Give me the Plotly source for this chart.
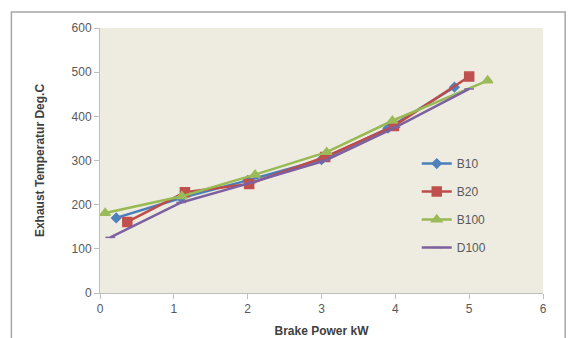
import plotly.graph_objects as go

# Brake power (kW) and exhaust gas temperature (deg C) per fuel blend
b10_power = [0.22, 1.10, 2.00, 3.00, 3.90, 4.80]
b10_temp = [170, 215, 255, 302, 373, 466]

b20_power = [0.37, 1.15, 2.02, 3.05, 3.98, 5.00]
b20_temp = [161, 228, 247, 308, 378, 490]

b100_power = [0.07, 1.11, 2.10, 3.07, 3.96, 5.25]
b100_temp = [181, 219, 268, 319, 390, 481]

d100_power = [0.14, 1.10, 2.05, 3.05, 4.00, 5.00]
d100_temp = [126, 205, 250, 300, 375, 462]

x_ticks = [0, 1, 2, 3, 4, 5, 6]
y_ticks = [0, 100, 200, 300, 400, 500, 600]

series = [
    ("B10", b10_power, b10_temp, "#4A7EBB", "#4F81BD", "diamond", 7),
    ("B20", b20_power, b20_temp, "#BE4B48", "#C0504D", "square", 9),
    ("B100", b100_power, b100_temp, "#98B954", "#9BBB59", "triangle-up", 9),
    ("D100", d100_power, d100_temp, "#7D60A0", "#8064A2", "line-ew", 7),
]

fig = go.Figure()
for name, xs, ys, lc, mc, sym, sz in series:
    fig.add_trace(go.Scatter(
        x=xs, y=ys, name=name, mode="lines+markers", legendgroup=name,
        line=dict(color=lc, width=2.5),
        marker=dict(symbol=sym, size=sz, color=mc,
                    line=dict(color=mc, width=1.5)),
    ))

base_font = "Liberation Sans, Arial, sans-serif"
axis_font = dict(family=base_font, size=12, color="#595959")
title_font = dict(family=base_font, size=12, color="#404040")

fig.update_layout(
    width=574, height=338,
    margin=dict(l=100, r=31, t=28, b=45),
    paper_bgcolor="white",
    plot_bgcolor="#EEECE1",
    font=axis_font,
    showlegend=True,
    legend=dict(x=0.715, y=0.33, xanchor="left", yanchor="middle",
                bgcolor="rgba(0,0,0,0)", font=dict(size=12, color="#595959"),
                itemwidth=30, tracegroupgap=9),
    xaxis=dict(range=[0, 6], tickvals=x_ticks, showgrid=False, zeroline=False,
               showline=True, linecolor="#BFBFBF", linewidth=1,
               ticks="outside", ticklen=5, tickcolor="#BFBFBF",
               title=dict(text="<b>Brake Power kW</b>", standoff=14, font=title_font),
               automargin=False, fixedrange=True),
    yaxis=dict(range=[0, 600], tickvals=y_ticks, showgrid=False, zeroline=False,
               showline=True, linecolor="#BFBFBF", linewidth=1,
               ticks="outside", ticklen=5, tickcolor="#BFBFBF",
               title=dict(text="<b>Exhaust Temperatur Deg.C</b>", standoff=24,
                          font=title_font),
               automargin=False, fixedrange=True),
    shapes=[dict(type="rect", xref="paper", yref="paper",
                 x0=-0.2, x1=1.05, y0=-0.3, y1=1.06,
                 line=dict(color="#A6A6A6", width=1.5))],
)

fig.write_html("out.html")
